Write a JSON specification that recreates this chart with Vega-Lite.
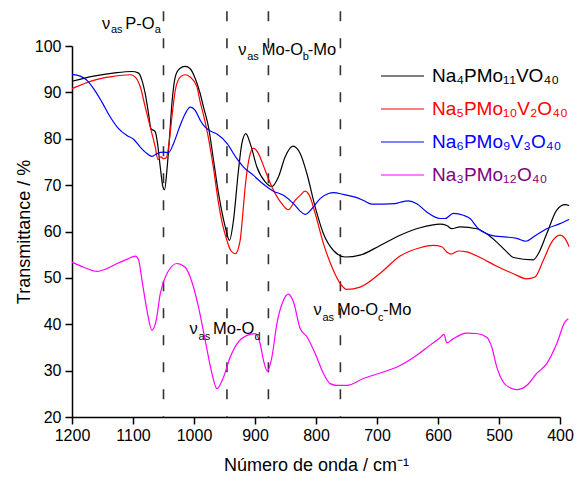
{
  "$schema": "https://vega.github.io/schema/vega-lite/v6.json",
  "width": 488,
  "height": 371,
  "autosize": {"type": "none"},
  "padding": {"left": 72, "top": 46, "right": 20, "bottom": 62},
  "background": "white",
  "config": {
    "view": {"stroke": null},
    "font": "Liberation Sans",
    "axis": {"grid": false, "domainColor": "black", "domainWidth": 1.5, "tickColor": "black", "tickWidth": 1.5, "labelColor": "black", "titleColor": "black", "titleFontWeight": "normal", "labelFont": "Liberation Sans", "titleFont": "Liberation Sans"}
  },
  "datasets": {
    "spectra": [
      {"wn":1200,"T":92.4,"sample":"Na₄PMo₁₁VO₄₀"},{"wn":1164.6,"T":93.5,"sample":"Na₄PMo₁₁VO₄₀"},{"wn":1130,"T":94.2,"sample":"Na₄PMo₁₁VO₄₀"},{"wn":1102,"T":94.5,"sample":"Na₄PMo₁₁VO₄₀"},{"wn":1091.4,"T":94.2,"sample":"Na₄PMo₁₁VO₄₀"},{"wn":1085.3,"T":92.6,"sample":"Na₄PMo₁₁VO₄₀"},{"wn":1079.9,"T":89.7,"sample":"Na₄PMo₁₁VO₄₀"},{"wn":1074.5,"T":85.4,"sample":"Na₄PMo₁₁VO₄₀"},{"wn":1070.6,"T":82.2,"sample":"Na₄PMo₁₁VO₄₀"},{"wn":1063.5,"T":81.5,"sample":"Na₄PMo₁₁VO₄₀"},{"wn":1059.8,"T":79.0,"sample":"Na₄PMo₁₁VO₄₀"},{"wn":1055.3,"T":73.9,"sample":"Na₄PMo₁₁VO₄₀"},{"wn":1050.9,"T":69.6,"sample":"Na₄PMo₁₁VO₄₀"},{"wn":1048.3,"T":69.0,"sample":"Na₄PMo₁₁VO₄₀"},{"wn":1044.4,"T":73.2,"sample":"Na₄PMo₁₁VO₄₀"},{"wn":1040.1,"T":80.4,"sample":"Na₄PMo₁₁VO₄₀"},{"wn":1036.2,"T":87.6,"sample":"Na₄PMo₁₁VO₄₀"},{"wn":1030.8,"T":93.3,"sample":"Na₄PMo₁₁VO₄₀"},{"wn":1023.7,"T":95.1,"sample":"Na₄PMo₁₁VO₄₀"},{"wn":1014.4,"T":95.6,"sample":"Na₄PMo₁₁VO₄₀"},{"wn":1006.2,"T":95.1,"sample":"Na₄PMo₁₁VO₄₀"},{"wn":998,"T":93.0,"sample":"Na₄PMo₁₁VO₄₀"},{"wn":989.8,"T":89.7,"sample":"Na₄PMo₁₁VO₄₀"},{"wn":984.4,"T":86.8,"sample":"Na₄PMo₁₁VO₄₀"},{"wn":976.2,"T":82.5,"sample":"Na₄PMo₁₁VO₄₀"},{"wn":968,"T":75.4,"sample":"Na₄PMo₁₁VO₄₀"},{"wn":959.8,"T":68.2,"sample":"Na₄PMo₁₁VO₄₀"},{"wn":948.8,"T":61.0,"sample":"Na₄PMo₁₁VO₄₀"},{"wn":941.8,"T":58.1,"sample":"Na₄PMo₁₁VO₄₀"},{"wn":935.3,"T":62.4,"sample":"Na₄PMo₁₁VO₄₀"},{"wn":927.1,"T":73.2,"sample":"Na₄PMo₁₁VO₄₀"},{"wn":921.5,"T":79.0,"sample":"Na₄PMo₁₁VO₄₀"},{"wn":915,"T":81.1,"sample":"Na₄PMo₁₁VO₄₀"},{"wn":907.9,"T":79.0,"sample":"Na₄PMo₁₁VO₄₀"},{"wn":896.9,"T":73.9,"sample":"Na₄PMo₁₁VO₄₀"},{"wn":883.3,"T":70.7,"sample":"Na₄PMo₁₁VO₄₀"},{"wn":872.3,"T":69.7,"sample":"Na₄PMo₁₁VO₄₀"},{"wn":861.5,"T":71.8,"sample":"Na₄PMo₁₁VO₄₀"},{"wn":850.5,"T":76.1,"sample":"Na₄PMo₁₁VO₄₀"},{"wn":837.9,"T":78.4,"sample":"Na₄PMo₁₁VO₄₀"},{"wn":825.9,"T":76.8,"sample":"Na₄PMo₁₁VO₄₀"},{"wn":815,"T":72.5,"sample":"Na₄PMo₁₁VO₄₀"},{"wn":801.4,"T":65.3,"sample":"Na₄PMo₁₁VO₄₀"},{"wn":787.8,"T":59.5,"sample":"Na₄PMo₁₁VO₄₀"},{"wn":771.4,"T":55.9,"sample":"Na₄PMo₁₁VO₄₀"},{"wn":752.2,"T":54.5,"sample":"Na₄PMo₁₁VO₄₀"},{"wn":727.7,"T":54.9,"sample":"Na₄PMo₁₁VO₄₀"},{"wn":694.9,"T":57.0,"sample":"Na₄PMo₁₁VO₄₀"},{"wn":662.1,"T":59.2,"sample":"Na₄PMo₁₁VO₄₀"},{"wn":629.4,"T":60.8,"sample":"Na₄PMo₁₁VO₄₀"},{"wn":596.6,"T":61.6,"sample":"Na₄PMo₁₁VO₄₀"},{"wn":585.6,"T":61.3,"sample":"Na₄PMo₁₁VO₄₀"},{"wn":577.4,"T":60.6,"sample":"Na₄PMo₁₁VO₄₀"},{"wn":563.8,"T":61.0,"sample":"Na₄PMo₁₁VO₄₀"},{"wn":536.5,"T":60.6,"sample":"Na₄PMo₁₁VO₄₀"},{"wn":520.1,"T":59.5,"sample":"Na₄PMo₁₁VO₄₀"},{"wn":503.7,"T":57.7,"sample":"Na₄PMo₁₁VO₄₀"},{"wn":487.3,"T":55.6,"sample":"Na₄PMo₁₁VO₄₀"},{"wn":476.5,"T":54.4,"sample":"Na₄PMo₁₁VO₄₀"},{"wn":443.8,"T":53.9,"sample":"Na₄PMo₁₁VO₄₀"},{"wn":435.6,"T":55.2,"sample":"Na₄PMo₁₁VO₄₀"},{"wn":421.8,"T":59.5,"sample":"Na₄PMo₁₁VO₄₀"},{"wn":405.4,"T":64.6,"sample":"Na₄PMo₁₁VO₄₀"},{"wn":391.8,"T":65.8,"sample":"Na₄PMo₁₁VO₄₀"},{"wn":385.1,"T":65.6,"sample":"Na₄PMo₁₁VO₄₀"},

      {"wn":1200,"T":90.8,"sample":"Na₅PMo₁₀V₂O₄₀"},{"wn":1164.6,"T":92.6,"sample":"Na₅PMo₁₀V₂O₄₀"},{"wn":1135,"T":93.4,"sample":"Na₅PMo₁₀V₂O₄₀"},{"wn":1104.5,"T":93.8,"sample":"Na₅PMo₁₀V₂O₄₀"},{"wn":1096.3,"T":93.3,"sample":"Na₅PMo₁₀V₂O₄₀"},{"wn":1088.1,"T":91.2,"sample":"Na₅PMo₁₀V₂O₄₀"},{"wn":1079.9,"T":86.8,"sample":"Na₅PMo₁₀V₂O₄₀"},{"wn":1071.7,"T":82.5,"sample":"Na₅PMo₁₀V₂O₄₀"},{"wn":1063.5,"T":78.2,"sample":"Na₅PMo₁₀V₂O₄₀"},{"wn":1059.1,"T":75.5,"sample":"Na₅PMo₁₀V₂O₄₀"},{"wn":1054.2,"T":76.1,"sample":"Na₅PMo₁₀V₂O₄₀"},{"wn":1050,"T":75.7,"sample":"Na₅PMo₁₀V₂O₄₀"},{"wn":1045.5,"T":75.9,"sample":"Na₅PMo₁₀V₂O₄₀"},{"wn":1041.7,"T":78.2,"sample":"Na₅PMo₁₀V₂O₄₀"},{"wn":1036.2,"T":84.7,"sample":"Na₅PMo₁₀V₂O₄₀"},{"wn":1030.8,"T":90.4,"sample":"Na₅PMo₁₀V₂O₄₀"},{"wn":1022.6,"T":93.3,"sample":"Na₅PMo₁₀V₂O₄₀"},{"wn":1014.4,"T":93.8,"sample":"Na₅PMo₁₀V₂O₄₀"},{"wn":1006.2,"T":93.3,"sample":"Na₅PMo₁₀V₂O₄₀"},{"wn":995.2,"T":91.2,"sample":"Na₅PMo₁₀V₂O₄₀"},{"wn":989.8,"T":87.9,"sample":"Na₅PMo₁₀V₂O₄₀"},{"wn":984.4,"T":85.1,"sample":"Na₅PMo₁₀V₂O₄₀"},{"wn":976.2,"T":80.1,"sample":"Na₅PMo₁₀V₂O₄₀"},{"wn":968,"T":73.6,"sample":"Na₅PMo₁₀V₂O₄₀"},{"wn":959.8,"T":66.1,"sample":"Na₅PMo₁₀V₂O₄₀"},{"wn":952.9,"T":61.3,"sample":"Na₅PMo₁₀V₂O₄₀"},{"wn":946,"T":58.1,"sample":"Na₅PMo₁₀V₂O₄₀"},{"wn":939.8,"T":55.9,"sample":"Na₅PMo₁₀V₂O₄₀"},{"wn":932.5,"T":55.2,"sample":"Na₅PMo₁₀V₂O₄₀"},{"wn":924.3,"T":58.1,"sample":"Na₅PMo₁₀V₂O₄₀"},{"wn":920.2,"T":63.5,"sample":"Na₅PMo₁₀V₂O₄₀"},{"wn":916.1,"T":69.6,"sample":"Na₅PMo₁₀V₂O₄₀"},{"wn":909.1,"T":76.1,"sample":"Na₅PMo₁₀V₂O₄₀"},{"wn":902.5,"T":78.0,"sample":"Na₅PMo₁₀V₂O₄₀"},{"wn":894.4,"T":76.8,"sample":"Na₅PMo₁₀V₂O₄₀"},{"wn":883.3,"T":73.2,"sample":"Na₅PMo₁₀V₂O₄₀"},{"wn":872.3,"T":69.6,"sample":"Na₅PMo₁₀V₂O₄₀"},{"wn":856,"T":66.0,"sample":"Na₅PMo₁₀V₂O₄₀"},{"wn":845.2,"T":64.7,"sample":"Na₅PMo₁₀V₂O₄₀"},{"wn":834.2,"T":66.7,"sample":"Na₅PMo₁₀V₂O₄₀"},{"wn":826,"T":67.8,"sample":"Na₅PMo₁₀V₂O₄₀"},{"wn":817.8,"T":68.7,"sample":"Na₅PMo₁₀V₂O₄₀"},{"wn":809.6,"T":67.4,"sample":"Na₅PMo₁₀V₂O₄₀"},{"wn":801.4,"T":63.9,"sample":"Na₅PMo₁₀V₂O₄₀"},{"wn":787.8,"T":57.4,"sample":"Na₅PMo₁₀V₂O₄₀"},{"wn":771.4,"T":51.6,"sample":"Na₅PMo₁₀V₂O₄₀"},{"wn":760.4,"T":48.8,"sample":"Na₅PMo₁₀V₂O₄₀"},{"wn":749.5,"T":47.5,"sample":"Na₅PMo₁₀V₂O₄₀"},{"wn":727.7,"T":48.0,"sample":"Na₅PMo₁₀V₂O₄₀"},{"wn":694.9,"T":51.0,"sample":"Na₅PMo₁₀V₂O₄₀"},{"wn":662.1,"T":54.7,"sample":"Na₅PMo₁₀V₂O₄₀"},{"wn":629.4,"T":56.5,"sample":"Na₅PMo₁₀V₂O₄₀"},{"wn":607.6,"T":57.0,"sample":"Na₅PMo₁₀V₂O₄₀"},{"wn":593.8,"T":56.7,"sample":"Na₅PMo₁₀V₂O₄₀"},{"wn":585.6,"T":55.6,"sample":"Na₅PMo₁₀V₂O₄₀"},{"wn":578.6,"T":55.1,"sample":"Na₅PMo₁₀V₂O₄₀"},{"wn":566.6,"T":55.8,"sample":"Na₅PMo₁₀V₂O₄₀"},{"wn":552.9,"T":55.6,"sample":"Na₅PMo₁₀V₂O₄₀"},{"wn":531.1,"T":54.4,"sample":"Na₅PMo₁₀V₂O₄₀"},{"wn":503.7,"T":52.5,"sample":"Na₅PMo₁₀V₂O₄₀"},{"wn":476.5,"T":50.9,"sample":"Na₅PMo₁₀V₂O₄₀"},{"wn":454.6,"T":49.8,"sample":"Na₅PMo₁₀V₂O₄₀"},{"wn":441,"T":50.2,"sample":"Na₅PMo₁₀V₂O₄₀"},{"wn":427.3,"T":53.8,"sample":"Na₅PMo₁₀V₂O₄₀"},{"wn":413.6,"T":57.7,"sample":"Na₅PMo₁₀V₂O₄₀"},{"wn":400,"T":59.2,"sample":"Na₅PMo₁₀V₂O₄₀"},{"wn":391.8,"T":58.5,"sample":"Na₅PMo₁₀V₂O₄₀"},{"wn":385.1,"T":56.7,"sample":"Na₅PMo₁₀V₂O₄₀"},

      {"wn":1200,"T":93.9,"sample":"Na₆PMo₉V₃O₄₀"},{"wn":1186.4,"T":93.5,"sample":"Na₆PMo₉V₃O₄₀"},{"wn":1175.4,"T":92.6,"sample":"Na₆PMo₉V₃O₄₀"},{"wn":1164.6,"T":90.8,"sample":"Na₆PMo₉V₃O₄₀"},{"wn":1150.9,"T":87.9,"sample":"Na₆PMo₉V₃O₄₀"},{"wn":1137.3,"T":84.7,"sample":"Na₆PMo₉V₃O₄₀"},{"wn":1123.7,"T":82.2,"sample":"Na₆PMo₉V₃O₄₀"},{"wn":1109.9,"T":80.7,"sample":"Na₆PMo₉V₃O₄₀"},{"wn":1099.1,"T":79.9,"sample":"Na₆PMo₉V₃O₄₀"},{"wn":1088.1,"T":78.2,"sample":"Na₆PMo₉V₃O₄₀"},{"wn":1077.1,"T":76.8,"sample":"Na₆PMo₉V₃O₄₀"},{"wn":1068.9,"T":76.2,"sample":"Na₆PMo₉V₃O₄₀"},{"wn":1060.7,"T":76.8,"sample":"Na₆PMo₉V₃O₄₀"},{"wn":1049.9,"T":77.1,"sample":"Na₆PMo₉V₃O₄₀"},{"wn":1041.7,"T":77.0,"sample":"Na₆PMo₉V₃O₄₀"},{"wn":1033.5,"T":79.0,"sample":"Na₆PMo₉V₃O₄₀"},{"wn":1022.6,"T":82.9,"sample":"Na₆PMo₉V₃O₄₀"},{"wn":1014.4,"T":85.4,"sample":"Na₆PMo₉V₃O₄₀"},{"wn":1006.2,"T":86.8,"sample":"Na₆PMo₉V₃O₄₀"},{"wn":998,"T":86.1,"sample":"Na₆PMo₉V₃O₄₀"},{"wn":989.8,"T":84.0,"sample":"Na₆PMo₉V₃O₄₀"},{"wn":981.6,"T":82.5,"sample":"Na₆PMo₉V₃O₄₀"},{"wn":973.8,"T":81.7,"sample":"Na₆PMo₉V₃O₄₀"},{"wn":962.4,"T":81.0,"sample":"Na₆PMo₉V₃O₄₀"},{"wn":946,"T":79.0,"sample":"Na₆PMo₉V₃O₄₀"},{"wn":929.7,"T":75.7,"sample":"Na₆PMo₉V₃O₄₀"},{"wn":918.9,"T":73.9,"sample":"Na₆PMo₉V₃O₄₀"},{"wn":902.5,"T":72.1,"sample":"Na₆PMo₉V₃O₄₀"},{"wn":886.1,"T":70.2,"sample":"Na₆PMo₉V₃O₄₀"},{"wn":869.7,"T":68.7,"sample":"Na₆PMo₉V₃O₄₀"},{"wn":853.3,"T":67.8,"sample":"Na₆PMo₉V₃O₄₀"},{"wn":836.9,"T":66.0,"sample":"Na₆PMo₉V₃O₄₀"},{"wn":826,"T":64.4,"sample":"Na₆PMo₉V₃O₄₀"},{"wn":817.8,"T":63.7,"sample":"Na₆PMo₉V₃O₄₀"},{"wn":806.8,"T":64.9,"sample":"Na₆PMo₉V₃O₄₀"},{"wn":793.2,"T":67.1,"sample":"Na₆PMo₉V₃O₄₀"},{"wn":779.6,"T":68.2,"sample":"Na₆PMo₉V₃O₄₀"},{"wn":771.4,"T":68.4,"sample":"Na₆PMo₉V₃O₄₀"},{"wn":755,"T":68.0,"sample":"Na₆PMo₉V₃O₄₀"},{"wn":735.9,"T":67.4,"sample":"Na₆PMo₉V₃O₄₀"},{"wn":722.3,"T":66.7,"sample":"Na₆PMo₉V₃O₄₀"},{"wn":708.5,"T":65.9,"sample":"Na₆PMo₉V₃O₄₀"},{"wn":689.5,"T":65.9,"sample":"Na₆PMo₉V₃O₄₀"},{"wn":670.3,"T":66.0,"sample":"Na₆PMo₉V₃O₄₀"},{"wn":662.1,"T":66.3,"sample":"Na₆PMo₉V₃O₄₀"},{"wn":648.5,"T":66.6,"sample":"Na₆PMo₉V₃O₄₀"},{"wn":634.8,"T":66.0,"sample":"Na₆PMo₉V₃O₄₀"},{"wn":618.4,"T":64.2,"sample":"Na₆PMo₉V₃O₄₀"},{"wn":596.6,"T":62.8,"sample":"Na₆PMo₉V₃O₄₀"},{"wn":588.4,"T":62.8,"sample":"Na₆PMo₉V₃O₄₀"},{"wn":574.8,"T":63.9,"sample":"Na₆PMo₉V₃O₄₀"},{"wn":558.4,"T":63.5,"sample":"Na₆PMo₉V₃O₄₀"},{"wn":547.5,"T":62.8,"sample":"Na₆PMo₉V₃O₄₀"},{"wn":533.9,"T":60.6,"sample":"Na₆PMo₉V₃O₄₀"},{"wn":520.1,"T":59.5,"sample":"Na₆PMo₉V₃O₄₀"},{"wn":506.5,"T":59.0,"sample":"Na₆PMo₉V₃O₄₀"},{"wn":487.3,"T":58.8,"sample":"Na₆PMo₉V₃O₄₀"},{"wn":470.9,"T":58.5,"sample":"Na₆PMo₉V₃O₄₀"},{"wn":455.7,"T":57.9,"sample":"Na₆PMo₉V₃O₄₀"},{"wn":443.8,"T":58.8,"sample":"Na₆PMo₉V₃O₄₀"},{"wn":421.8,"T":60.6,"sample":"Na₆PMo₉V₃O₄₀"},{"wn":400,"T":61.7,"sample":"Na₆PMo₉V₃O₄₀"},{"wn":385.1,"T":62.6,"sample":"Na₆PMo₉V₃O₄₀"},

      {"wn":1200,"T":53.4,"sample":"Na₃PMo₁₂O₄₀"},{"wn":1181,"T":52.3,"sample":"Na₃PMo₁₂O₄₀"},{"wn":1159,"T":51.4,"sample":"Na₃PMo₁₂O₄₀"},{"wn":1142.7,"T":52.0,"sample":"Na₃PMo₁₂O₄₀"},{"wn":1126.3,"T":53.1,"sample":"Na₃PMo₁₂O₄₀"},{"wn":1109.9,"T":54.0,"sample":"Na₃PMo₁₂O₄₀"},{"wn":1096.3,"T":54.7,"sample":"Na₃PMo₁₂O₄₀"},{"wn":1090.9,"T":53.9,"sample":"Na₃PMo₁₂O₄₀"},{"wn":1085.3,"T":49.5,"sample":"Na₃PMo₁₂O₄₀"},{"wn":1077.1,"T":43.0,"sample":"Na₃PMo₁₂O₄₀"},{"wn":1068.9,"T":38.7,"sample":"Na₃PMo₁₂O₄₀"},{"wn":1061.9,"T":40.9,"sample":"Na₃PMo₁₂O₄₀"},{"wn":1055.3,"T":46.6,"sample":"Na₃PMo₁₂O₄₀"},{"wn":1044.4,"T":50.9,"sample":"Na₃PMo₁₂O₄₀"},{"wn":1028,"T":53.1,"sample":"Na₃PMo₁₂O₄₀"},{"wn":1014.4,"T":52.3,"sample":"Na₃PMo₁₂O₄₀"},{"wn":1003.4,"T":49.1,"sample":"Na₃PMo₁₂O₄₀"},{"wn":992.6,"T":43.7,"sample":"Na₃PMo₁₂O₄₀"},{"wn":981.6,"T":36.5,"sample":"Na₃PMo₁₂O₄₀"},{"wn":970.6,"T":29.4,"sample":"Na₃PMo₁₂O₄₀"},{"wn":962.4,"T":26.1,"sample":"Na₃PMo₁₂O₄₀"},{"wn":951.6,"T":28.6,"sample":"Na₃PMo₁₂O₄₀"},{"wn":940.7,"T":32.9,"sample":"Na₃PMo₁₂O₄₀"},{"wn":927.1,"T":36.2,"sample":"Na₃PMo₁₂O₄₀"},{"wn":913.3,"T":37.6,"sample":"Na₃PMo₁₂O₄₀"},{"wn":899.7,"T":38.0,"sample":"Na₃PMo₁₂O₄₀"},{"wn":891.5,"T":35.8,"sample":"Na₃PMo₁₂O₄₀"},{"wn":886.1,"T":32.2,"sample":"Na₃PMo₁₂O₄₀"},{"wn":879.6,"T":29.9,"sample":"Na₃PMo₁₂O₄₀"},{"wn":872.3,"T":32.9,"sample":"Na₃PMo₁₂O₄₀"},{"wn":864.2,"T":40.1,"sample":"Na₃PMo₁₂O₄₀"},{"wn":853.3,"T":45.2,"sample":"Na₃PMo₁₂O₄₀"},{"wn":845.1,"T":46.5,"sample":"Na₃PMo₁₂O₄₀"},{"wn":836.9,"T":44.8,"sample":"Na₃PMo₁₂O₄₀"},{"wn":826,"T":39.1,"sample":"Na₃PMo₁₂O₄₀"},{"wn":815,"T":37.3,"sample":"Na₃PMo₁₂O₄₀"},{"wn":801.4,"T":33.7,"sample":"Na₃PMo₁₂O₄₀"},{"wn":787.8,"T":29.4,"sample":"Na₃PMo₁₂O₄₀"},{"wn":776.8,"T":27.2,"sample":"Na₃PMo₁₂O₄₀"},{"wn":765.9,"T":26.8,"sample":"Na₃PMo₁₂O₄₀"},{"wn":749.5,"T":26.8,"sample":"Na₃PMo₁₂O₄₀"},{"wn":722.3,"T":28.3,"sample":"Na₃PMo₁₂O₄₀"},{"wn":689.5,"T":29.7,"sample":"Na₃PMo₁₂O₄₀"},{"wn":662.1,"T":31.1,"sample":"Na₃PMo₁₂O₄₀"},{"wn":634.8,"T":33.3,"sample":"Na₃PMo₁₂O₄₀"},{"wn":612.8,"T":35.5,"sample":"Na₃PMo₁₂O₄₀"},{"wn":596.6,"T":37.1,"sample":"Na₃PMo₁₂O₄₀"},{"wn":590.1,"T":37.8,"sample":"Na₃PMo₁₂O₄₀"},{"wn":585.6,"T":36.0,"sample":"Na₃PMo₁₂O₄₀"},{"wn":574.8,"T":36.9,"sample":"Na₃PMo₁₂O₄₀"},{"wn":552.9,"T":38.1,"sample":"Na₃PMo₁₂O₄₀"},{"wn":536.5,"T":38.0,"sample":"Na₃PMo₁₂O₄₀"},{"wn":520.1,"T":37.2,"sample":"Na₃PMo₁₂O₄₀"},{"wn":511.9,"T":35.1,"sample":"Na₃PMo₁₂O₄₀"},{"wn":503.7,"T":30.8,"sample":"Na₃PMo₁₂O₄₀"},{"wn":492.9,"T":27.5,"sample":"Na₃PMo₁₂O₄₀"},{"wn":482,"T":26.3,"sample":"Na₃PMo₁₂O₄₀"},{"wn":471,"T":25.9,"sample":"Na₃PMo₁₂O₄₀"},{"wn":454.6,"T":26.8,"sample":"Na₃PMo₁₂O₄₀"},{"wn":438.2,"T":29.4,"sample":"Na₃PMo₁₂O₄₀"},{"wn":421.8,"T":31.5,"sample":"Na₃PMo₁₂O₄₀"},{"wn":405.4,"T":35.8,"sample":"Na₃PMo₁₂O₄₀"},{"wn":391.8,"T":40.5,"sample":"Na₃PMo₁₂O₄₀"},{"wn":386.4,"T":41.2,"sample":"Na₃PMo₁₂O₄₀"}
    ],
    "bands": [{"wn":1050},{"wn":946},{"wn":878},{"wn":760}],
    "labelsMain": [
      {"wn":1150.9,"T":103.75,"text":"ν"},{"wn":1112.7,"T":103.75,"text":"P-O"},
      {"wn":927.6,"T":98.0,"text":"ν"},{"wn":889.0,"T":98.0,"text":"Mo-O"},{"wn":813.7,"T":98.0,"text":"-Mo"},
      {"wn":1007.3,"T":37.83,"text":"ν"},{"wn":968.8,"T":37.83,"text":"Mo-O"},
      {"wn":804.2,"T":41.93,"text":"ν"},{"wn":765.7,"T":41.93,"text":"Mo-O"},{"wn":690.3,"T":41.93,"text":"-Mo"}
    ],
    "labelsSub": [
      {"wn":1136.1,"T":102.8,"text":"as"},{"wn":1064.4,"T":102.8,"text":"a"},
      {"wn":912.8,"T":96.9,"text":"as"},{"wn":821.9,"T":96.9,"text":"b"},
      {"wn":992.6,"T":36.54,"text":"as"},{"wn":900.8,"T":36.54,"text":"d"},
      {"wn":789.4,"T":40.64,"text":"as"},{"wn":698.5,"T":40.64,"text":"c"}
    ]
  },
  "layer": [
    {
      "data": {"name": "bands"},
      "mark": {"type": "rule", "strokeDash": [10, 17], "strokeWidth": 1.6, "stroke": "#333333", "clip": false},
      "encoding": {
        "x": {"field": "wn", "type": "quantitative"},
        "y": {"datum": 107.5, "type": "quantitative"},
        "y2": {"datum": 20}
      }
    },
    {
      "data": {"name": "spectra"},
      "mark": {"type": "line", "interpolate": "monotone", "strokeWidth": 1.2, "clip": false},
      "encoding": {
        "x": {
          "field": "wn", "type": "quantitative",
          "scale": {"domain": [400, 1200], "reverse": true, "nice": false, "zero": false},
          "axis": {
            "title": "Número de onda / cm⁻¹",
            "values": [400,450,500,550,600,650,700,750,800,850,900,950,1000,1050,1100,1150,1200],
            "format": "d",
            "labelExpr": "datum.value % 100 === 0 ? datum.label : ''",
            "tickSize": {"condition": {"test": "datum.value % 100 !== 0", "value": 4}, "value": 7},
            "labelFontSize": 16, "titleFontSize": 18, "labelPadding": 3, "titlePadding": 13,
            "labelFlush": false
          }
        },
        "y": {
          "field": "T", "type": "quantitative",
          "scale": {"domain": [20, 100], "nice": false, "zero": false},
          "axis": {
            "title": "Transmittance / %",
            "values": [20,25,30,35,40,45,50,55,60,65,70,75,80,85,90,95,100],
            "format": "d",
            "labelExpr": "datum.value % 10 === 0 ? datum.label : ''",
            "tickSize": {"condition": {"test": "datum.value % 10 !== 0", "value": 4}, "value": 7},
            "labelFontSize": 16, "titleFontSize": 18, "labelPadding": 4, "titlePadding": 1,
            "labelFlush": false
          }
        },
        "color": {
          "field": "sample", "type": "nominal",
          "scale": {"domain": ["Na₄PMo₁₁VO₄₀","Na₅PMo₁₀V₂O₄₀","Na₆PMo₉V₃O₄₀","Na₃PMo₁₂O₄₀"], "range": ["#000000","#ff0000","#0000ff","#ff00ff"]},
          "legend": {
            "title": null, "orient": "none", "legendX": 308, "legendY": 7.5,
            "symbolType": "stroke", "symbolSize": 1850, "symbolStrokeWidth": 1.2,
            "labelFontSize": 19, "labelFont": "Liberation Sans", "labelOffset": 7, "labelLimit": 300,
            "rowPadding": -13, "padding": 0,
            "encode": {"labels": {"update": {"fill": {"signal": "datum.value === 'Na₃PMo₁₂O₄₀' ? '#800080' : scale('color', datum.value)"}}}}
          }
        },
        "order": {"field": "wn", "sort": "descending"}
      }
    },
    {
      "data": {"name": "labelsMain"},
      "mark": {"type": "text", "align": "left", "baseline": "alphabetic", "fontSize": 16.5, "font": "Liberation Sans", "color": "black", "clip": false},
      "encoding": {
        "x": {"field": "wn", "type": "quantitative"},
        "y": {"field": "T", "type": "quantitative"},
        "text": {"field": "text"}
      }
    },
    {
      "data": {"name": "labelsSub"},
      "mark": {"type": "text", "align": "left", "baseline": "alphabetic", "fontSize": 11, "font": "Liberation Sans", "color": "black", "clip": false},
      "encoding": {
        "x": {"field": "wn", "type": "quantitative"},
        "y": {"field": "T", "type": "quantitative"},
        "text": {"field": "text"}
      }
    }
  ]
}
